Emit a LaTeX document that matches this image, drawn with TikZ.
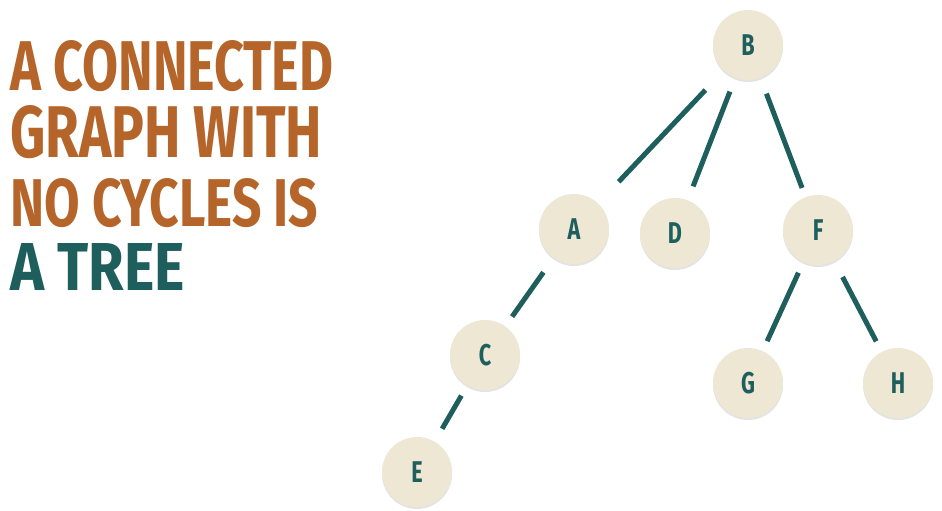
\documentclass[tikz,border=0pt]{standalone}
\usepackage{fontspec}
\usepackage{graphicx}
\setmainfont{Fira Sans}
\usetikzlibrary{shadows}
\definecolor{rust}{HTML}{B5652A}
\definecolor{teal2}{HTML}{1E5F5E}
\definecolor{beige}{HTML}{EDE7D3}
\tikzset{
  vert/.style={circle, fill=beige, minimum size=70pt, inner sep=0pt, outer sep=0pt,
    text=teal2, font=\fontsize{30}{30}\selectfont\bfseries,
    drop shadow={shadow xshift=0pt, shadow yshift=-2pt, opacity=0.18, fill=black!60}},
  edge/.style={draw=teal2, line width=5pt},
  headline/.style={anchor=base west, inner sep=0pt, font=\bfseries}
}
\newcommand{\nl}[1]{\scalebox{0.72}[1]{#1}}
\begin{document}
\begin{tikzpicture}[x=1pt,y=-1pt]
\useasboundingbox (0,0) rectangle (942,511);
\fill[white] (0,0) rectangle (942,511);
% headline
\node[headline, text=rust] (l1) at (10,90) {\resizebox{323pt}{50pt}{A CONNECTED}};
\node[headline, text=rust] (l2) at (10,157) {\resizebox{312pt}{52pt}{GRAPH WITH}};
\node[headline, text=rust] (l3) at (10,226) {\resizebox{308pt}{48pt}{NO CYCLES IS}};
\node[headline, text=teal2] (l4) at (10,290) {\resizebox{175pt}{47pt}{A TREE}};
% nodes
\node[vert] (B) at (748,45) {\nl{B}};
\node[vert] (A) at (574,229) {\nl{A}};
\node[vert] (D) at (675,233) {\nl{D}};
\node[vert] (F) at (818,230) {\nl{F}};
\node[vert] (C) at (485,355) {\nl{C}};
\node[vert] (G) at (748,383) {\nl{G}};
\node[vert] (H) at (898,383) {\nl{H}};
\node[vert] (E) at (417,472) {\nl{E}};
% edges
\draw[edge, shorten <=27pt, shorten >=30pt] (B) -- (A);
\draw[edge, shorten <=15pt, shorten >=15pt] (B) -- (D);
\draw[edge, shorten <=17pt, shorten >=10pt] (B) -- (F);
\draw[edge, shorten <=18pt, shorten >=12pt] (A) -- (C);
\draw[edge, shorten <=12pt, shorten >=15pt] (C) -- (E);
\draw[edge, shorten <=12pt, shorten >=11pt] (F) -- (G);
\draw[edge, shorten <=18pt, shorten >=12pt] (F) -- (H);
\end{tikzpicture}
\end{document}
